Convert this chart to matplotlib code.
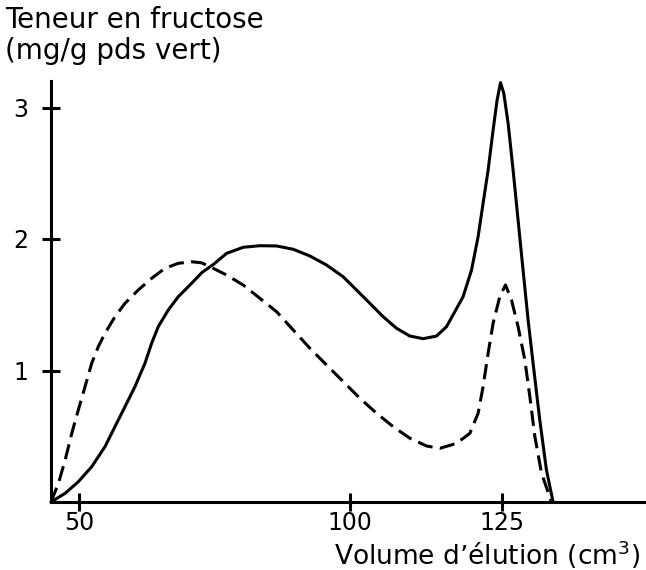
import numpy as np
import matplotlib
matplotlib.use("Agg")
import matplotlib.pyplot as plt

# ---- data ----
solid_x = [44.8, 47.42, 49.87, 52.34, 54.80, 56.64, 58.49, 60.33, 62.18, 63.41,
           64.63, 66.48, 68.32, 70.79, 72.69, 74.91, 77.25, 80.31, 83.39, 86.48,
           89.54, 92.62, 95.70, 98.76, 101.10, 103.29, 105.48, 107.68, 109.87,
           112.06, 114.26, 115.90, 117.27, 118.63, 120.02, 121.10, 121.92,
           122.75, 123.57, 124.23, 124.79, 125.33, 126.04, 126.86, 127.68,
           128.50, 129.33, 130.15, 131.25, 132.35, 133.44]
solid_y = [0.0, 0.066, 0.154, 0.268, 0.421, 0.573, 0.725, 0.877, 1.055, 1.207,
           1.333, 1.460, 1.561, 1.663, 1.745, 1.810, 1.891, 1.937, 1.949, 1.947,
           1.922, 1.871, 1.802, 1.713, 1.612, 1.511, 1.409, 1.321, 1.262,
           1.242, 1.262, 1.333, 1.447, 1.561, 1.764, 2.017, 2.271,
           2.524, 2.829, 3.057, 3.189, 3.108, 2.880, 2.524, 2.144,
           1.764, 1.384, 1.055, 0.623, 0.243, 0.0]

dash_x = [44.8, 46.18, 47.42, 48.65, 49.87, 51.11, 52.34, 53.56, 54.80, 56.64,
          58.49, 60.94, 63.41, 65.87, 68.32, 70.79, 72.64, 74.78, 77.25, 80.31,
          83.39, 86.48, 89.54, 92.62, 95.70, 98.76, 101.64, 104.39, 107.12,
          109.87, 112.62, 114.80, 117.55, 119.74, 121.10, 121.92, 122.75,
          123.57, 124.67, 125.61, 126.59, 127.68, 128.78, 129.61, 130.43,
          131.53, 133.17]
dash_y = [0.0, 0.142, 0.318, 0.521, 0.699, 0.876, 1.054, 1.181, 1.283, 1.409,
          1.511, 1.612, 1.701, 1.777, 1.815, 1.827, 1.819, 1.777, 1.726, 1.650,
          1.549, 1.447, 1.308, 1.169, 1.042, 0.916, 0.789, 0.675, 0.573,
          0.485, 0.426, 0.408, 0.446, 0.522, 0.674, 0.877, 1.131,
          1.359, 1.562, 1.651, 1.537, 1.334, 1.083, 0.804, 0.500,
          0.221, 0.0]

x_ticks = [50, 100, 125]
y_ticks = [1, 2, 3]
y_title = "Teneur en fructose\n(mg/g pds vert)"
x_title = "Volume d\u2019élution (cm$^{3}$)"

# hand-drawn axis: uneven spacing between graduations
XV = [0.0, 44.8, 50.0, 100.0, 125.0, 200.0]
XP = [-192.0, 51.0, 79.0, 350.0, 502.0, 958.0]

def fwd(v):
    return np.interp(v, XV, XP)

def inv(p):
    return np.interp(p, XP, XV)

plt.rcParams['font.family'] = ['DejaVu Sans']
plt.rcParams['mathtext.fontset'] = 'dejavusans'

fig = plt.figure(figsize=(6.46, 5.70), dpi=100)
ax = fig.add_axes([51/646, (570-502)/570, (644-51)/646, (502-81.2)/570])
ax.set_xscale('function', functions=(fwd, inv))
ax.set_xlim(44.8, 148.4)
ax.set_ylim(0, 3.2)

lw = 2.2
ax.plot(solid_x, solid_y, color='black', lw=lw, clip_on=False,
        solid_joinstyle='round', solid_capstyle='round')
ax.plot(dash_x, dash_y, color='black', lw=lw, clip_on=False,
        linestyle=(0, (5.0, 2.4)), dash_joinstyle='round')

for s in ['top', 'right']:
    ax.spines[s].set_visible(False)
for s in ['left', 'bottom']:
    ax.spines[s].set_linewidth(2.2)

ax.set_xticks(x_ticks)
ax.set_xticklabels([str(t) for t in x_ticks])
ax.set_yticks(y_ticks)
ax.set_yticklabels([str(t) for t in y_ticks])
ax.xaxis.set_minor_locator(matplotlib.ticker.NullLocator())
ax.tick_params(axis='both', direction='inout', length=13, width=2.2,
               labelsize=17, colors='black')
ax.tick_params(axis='y', pad=10)
ax.tick_params(axis='x', pad=0)

fig.text(5/646, 1 - 6/570, y_title, ha='left', va='top', fontsize=20,
         linespacing=1.15)
fig.text(640/646, 1 - 565/570, x_title, ha='right', va='baseline',
         fontsize=19)

fig.savefig("out.png", dpi=100)
